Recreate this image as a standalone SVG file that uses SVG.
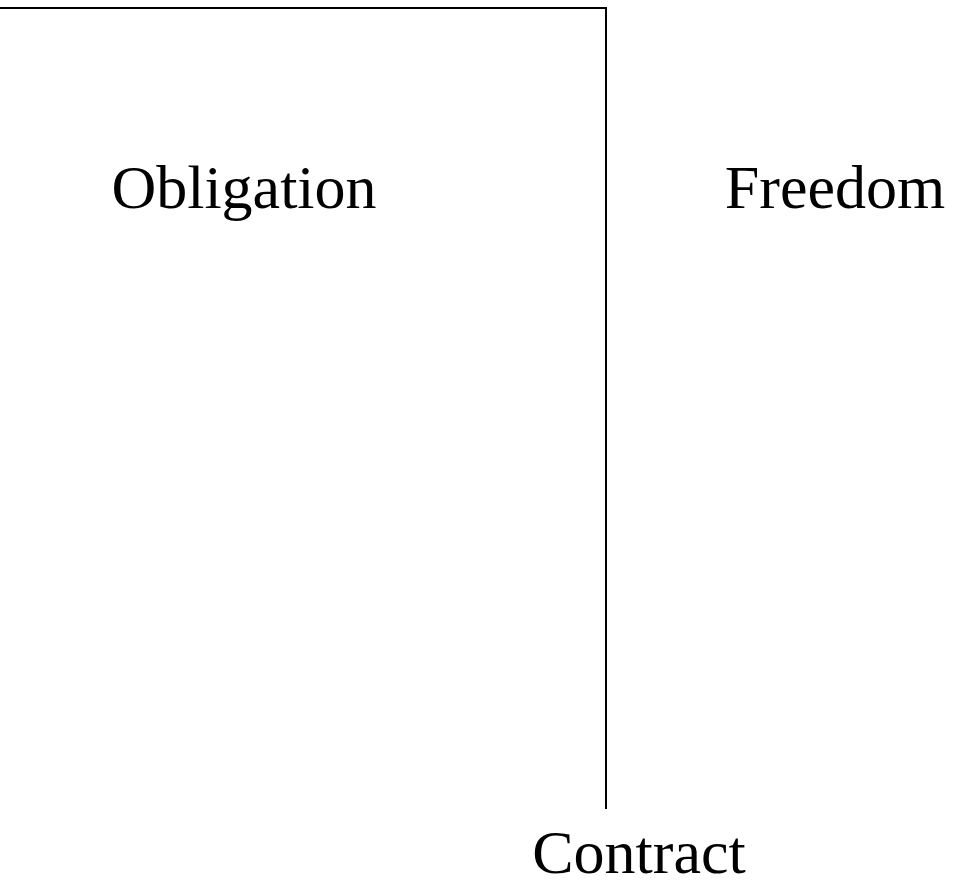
<svg xmlns="http://www.w3.org/2000/svg" width="956" height="888" viewBox="0 0 956 888">
<style>
.lbl{font-family:"Liberation Serif","Times New Roman",serif;font-size:62px;fill:#000;text-anchor:middle}
.ln{fill:none;stroke:#000;stroke-width:2}
</style>
<rect width="956" height="888" fill="#fff"/>
<g id="connectors">
<polyline class="ln" points="0,8 606,8 606,809"/>
</g>
<g id="obligation"><text class="lbl" x="244" y="208">Obligation</text></g>
<g id="freedom"><text class="lbl" x="835" y="208">Freedom</text></g>
<g id="contract"><text class="lbl" x="639" y="873">Contract</text></g>
</svg>
